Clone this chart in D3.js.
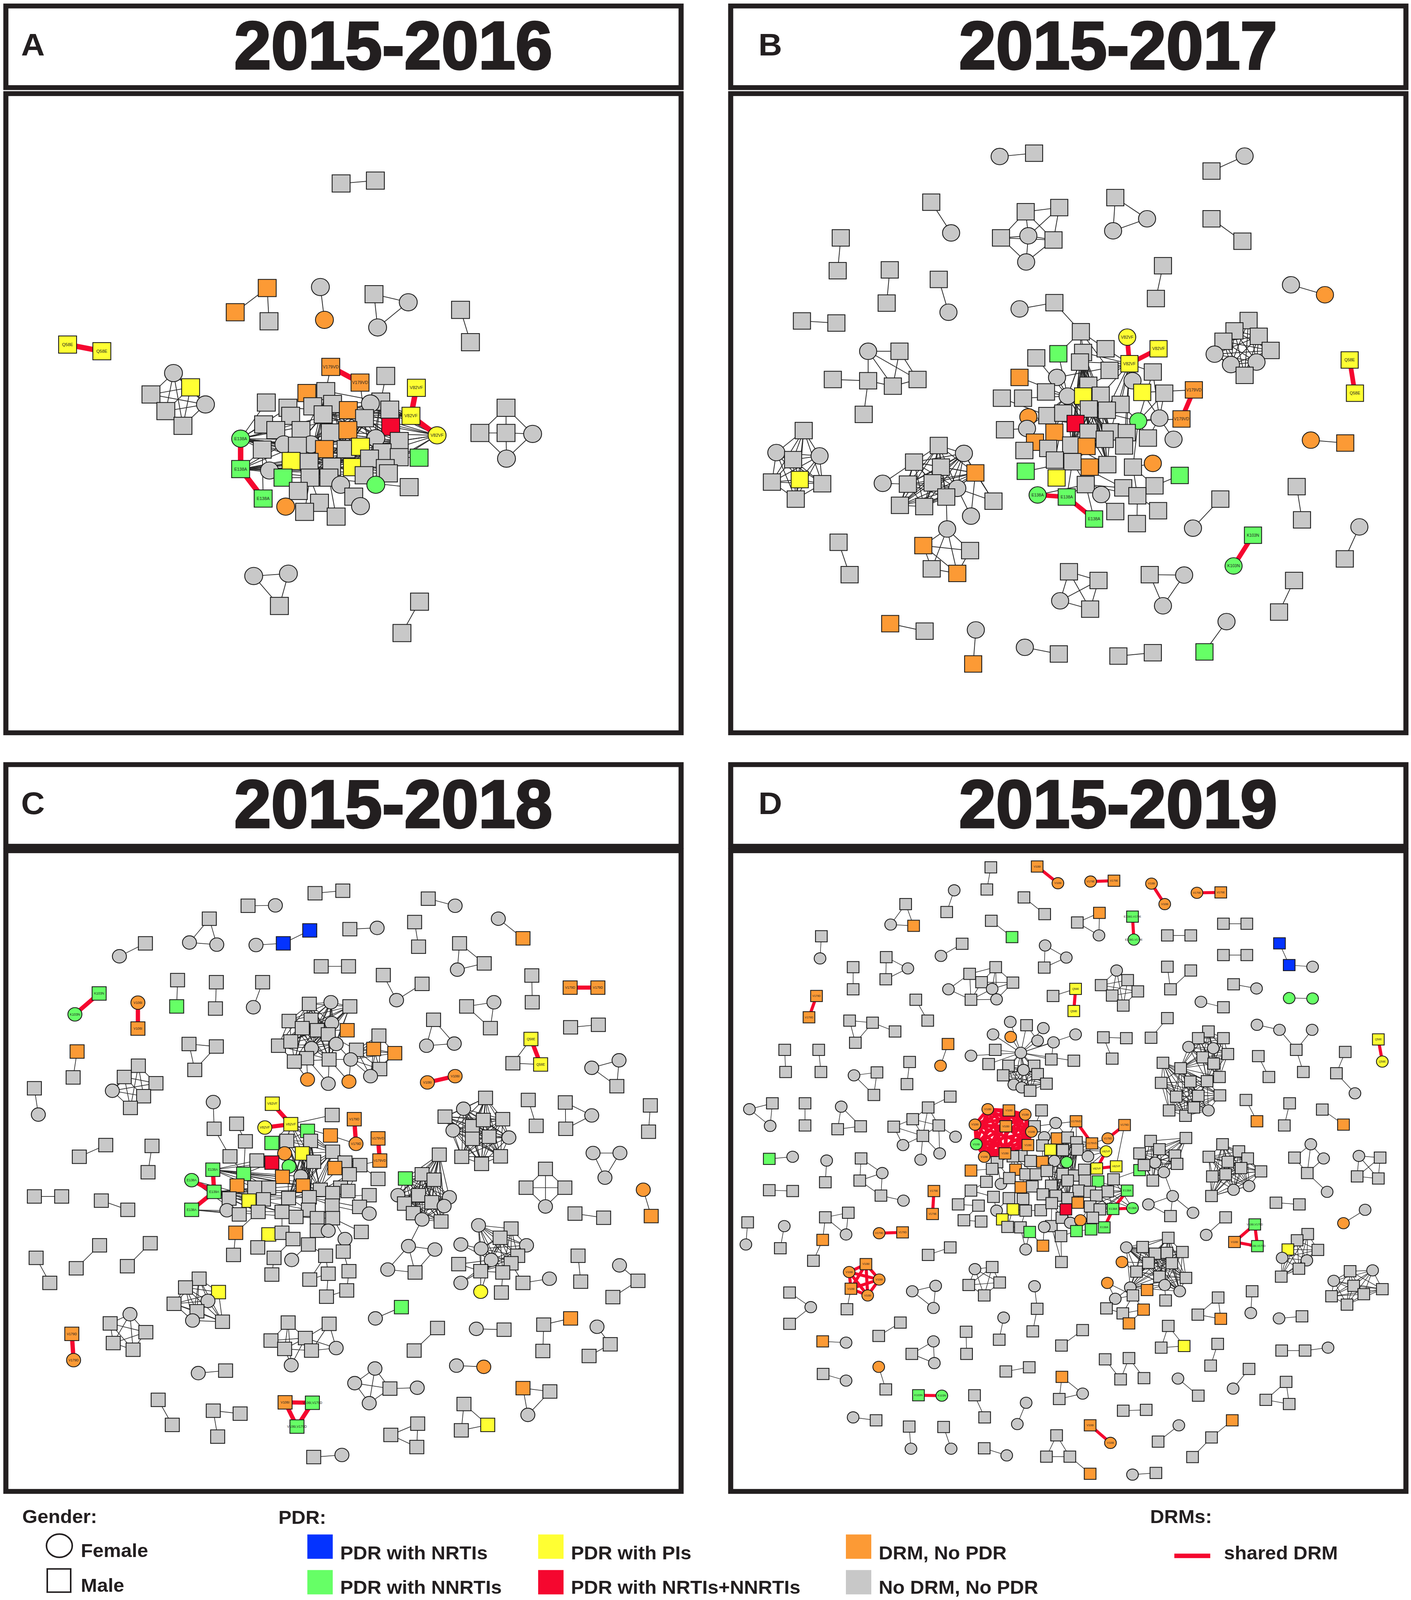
<!DOCTYPE html>
<html>
<head>
<meta charset="utf-8">
<script src="https://cdn.jsdelivr.net/npm/d3@7"></script>
<style>
  html, body { margin: 0; padding: 0; background: #fff; overflow: hidden; }
  svg { display: block; font-family: "Liberation Sans", Arial, sans-serif; }
</style>
</head>
<body>
<div class="chart"></div>
<script>
// node = [x, y, shape (s=square c=circle), category, label]; in a 1560x1560 frame per panel
// edges: undefined = simple pair, 'k' = every pair, [i,j] black, [i,j,1] shared DRM,
//        ['k',..] / ['kr',..] cliques, ['f', hub, ..] a hub linked to each listed node
const compsA = [
  [[[757,386,'s','g'],[833,380,'s','g']]],
  [[[593,606,'s','o'],[522,657,'s','o'],[597,676,'s','g']], [[0,1],[0,2]]],
  [[[711,604,'c','g'],[720,673,'c','o']]],
  [[[830,619,'s','g'],[906,636,'c','g'],[838,689,'c','g']], 'k'],
  [[[1022,652,'s','g'],[1044,720,'s','g']]],
  [[[150,725,'s','y','Q58E'],[226,739,'s','y','Q58E']], [[0,1,1]]],
  [[[385,785,'c','g'],[423,815,'s','y'],[335,830,'s','g'],[456,851,'c','g'],[368,865,'s','g'],[406,896,'s','g']], 'k'],
  [[[1123,858,'s','g'],[1065,911,'s','g'],[1123,911,'s','g'],[1182,913,'c','g'],[1124,965,'c','g']], [[0,1],[0,2],[0,3],[1,2],[2,3],[1,4],[2,4],[3,4]]],
  [[[563,1212,'c','g'],[640,1207,'c','g'],[620,1275,'s','g']], 'k'],
  [[[931,1266,'s','g'],[892,1332,'s','g']]],
  [[[734,772,'s','o','V179VD'],[799,805,'s','o','V179VD'],[856,791,'s','g'],[924,816,'s','y','V82VF'],[912,875,'s','y','V82VF'],
    [970,916,'c','y','V82VF'],[534,923,'c','n','E138A'],[534,987,'s','n','E138A'],[584,1049,'s','n','E138A'],[591,847,'s','g'],
    [723,823,'s','g'],[681,827,'s','o'],[639,858,'s','g'],[738,850,'s','g'],[694,855,'s','g'],[845,845,'s','g'],[865,862,'s','g'],
    [822,849,'c','g'],[585,893,'s','g'],[645,875,'s','g'],[717,872,'s','g'],[773,863,'s','o'],[809,880,'s','g'],[867,898,'s','r'],
    [612,905,'s','g'],[668,905,'s','g'],[733,910,'s','g'],[772,905,'s','o'],[834,922,'c','g'],[886,928,'s','g'],[930,963,'s','n'],
    [582,946,'s','g'],[630,935,'c','g'],[690,935,'c','g'],[660,938,'s','g'],[720,945,'s','o'],[768,945,'s','g'],[800,940,'s','y'],
    [848,952,'s','g'],[886,962,'s','g'],[646,970,'s','y'],[686,972,'s','g'],[736,982,'s','g'],[782,983,'s','y'],[820,965,'s','g'],
    [855,985,'s','g'],[598,990,'c','g'],[628,1005,'s','n'],[688,1005,'s','g'],[730,1005,'s','g'],[808,1000,'s','g'],[862,996,'s','g'],
    [834,1020,'c','n'],[756,1020,'c','g'],[908,1025,'s','g'],[662,1033,'s','g'],[785,1045,'s','g'],[709,1058,'s','g'],[800,1065,'c','g'],
    [634,1066,'c','o'],[676,1077,'s','g'],[746,1087,'s','g']],
   [['k',10,13,15,20,22,26,28,29,34,36,41,42,44,48],
    ['f',6,9,12,18,24,31,32,34,36,38,39,41,44,45,50,51,29,16,15],
    ['f',7,31,32,34,40,41,42,43,44,45,50,51,54,39,38,36],
    ['f',5,16,29,39,22,17,15,38,45,36,26,20,13],
    ['f',4,15,16,22,17,13,20,14,12],
    [0,10],[1,22],[2,15],[8,31],[59,55],[60,48],[61,49],[11,14],[21,13],[23,16],[27,26],[30,39],[35,34],[37,36],[40,41],[43,42],[47,48],[52,50],[53,49],[57,48],[58,56],[46,31],[19,12],[25,34],[33,41],
    [0,1,1],[3,4,1],[4,5,1],[6,7,1],[7,8,1]]]
];

const compsB = [
  [[[628,165,'c','g'],[706,157,'s','g']]],
  [[[1108,200,'s','g'],[1183,164,'c','g']]],
  [[[473,275,'s','g'],[518,349,'c','g']]],
  [[[687,298,'s','g'],[763,288,'s','g'],[631,361,'s','g'],[750,366,'s','g'],[693,356,'c','g'],[688,419,'c','g']], [[0,1],[0,2],[0,4],[0,3],[1,4],[1,3],[2,4],[2,5],[3,4],[3,5],[4,5],[2,3]]],
  [[[890,264,'s','g'],[962,315,'c','g'],[885,344,'c','g']], 'k'],
  [[[1108,315,'s','g'],[1178,369,'s','g']]],
  [[[268,361,'s','g'],[261,440,'s','g']]],
  [[[379,438,'s','g'],[372,518,'s','g']]],
  [[[490,461,'s','g'],[512,540,'c','g']]],
  [[[998,428,'s','g'],[982,507,'s','g']]],
  [[[1288,474,'c','g'],[1365,498,'c','o']]],
  [[[180,561,'s','g'],[258,566,'s','g']]],
  [[[330,634,'c','g'],[401,634,'s','g'],[250,702,'s','g'],[330,705,'s','g'],[386,718,'s','g'],[442,702,'s','g'],[320,786,'s','g']], [[0,1],[0,3],[0,4],[1,4],[1,5],[2,3],[3,4],[3,6],[4,5],[0,5]]],
  [[[1192,560,'s','g'],[1160,585,'s','g'],[1135,610,'s','g'],[1215,598,'s','g'],[1242,632,'s','g'],[1115,641,'c','g'],[1152,666,'c','g'],[1210,660,'c','g'],[1183,692,'s','g']], 'k'],
  [[[1421,655,'s','y','Q58E'],[1433,735,'s','y','Q58E']], [[0,1,1]]],
  [[[1333,848,'c','o'],[1411,855,'s','o']]],
  [[[184,825,'s','g'],[122,878,'c','g'],[220,886,'c','g'],[160,895,'s','g'],[112,949,'s','g'],[226,953,'s','g'],[166,990,'s','g'],[175,943,'s','y']], 'k'],
  [[[490,861,'s','g'],[547,880,'c','g'],[434,901,'s','g'],[495,913,'s','g'],[573,927,'s','o'],[363,952,'c','g'],[420,954,'s','g'],[476,951,'s','g'],
    [532,964,'c','g'],[614,995,'s','g'],[402,1005,'s','g'],[457,1008,'s','g'],[507,985,'s','g'],[563,1031,'c','g'],[509,1062,'c','g'],
    [455,1102,'s','o'],[561,1114,'s','g'],[474,1158,'s','g'],[532,1169,'s','o']],
   [['k',0,1,2,3,4,6,7,8,10,11,12],[5,6],[5,2],[4,9],[8,9],[1,9],[4,13],[8,13],[12,14],[14,15],[14,16],[14,17],[14,18],[15,16],[15,18],[16,18],[17,18],[15,17]]],
  [[[263,1094,'s','g'],[288,1172,'s','g']]],
  [[[673,532,'c','g'],[752,517,'s','g'],[812,587,'s','g'],[917,600,'c','y','V82VF'],[988,628,'s','y','V82VF'],[922,664,'s','y','V82VF'],
    [711,650,'s','g'],[761,640,'s','n'],[817,637,'s','g'],[868,628,'s','g'],[810,660,'s','g'],[673,697,'s','o'],[758,697,'c','g'],
    [829,716,'s','g'],[877,680,'s','g'],[929,705,'c','g'],[975,684,'s','g'],[633,747,'s','g'],[681,747,'s','g'],[733,732,'s','g'],
    [782,742,'c','g'],[817,742,'s','y'],[857,740,'s','g'],[902,762,'s','g'],[951,733,'s','y'],[1001,735,'s','g'],
    [1068,727,'s','o','V179VD'],[1040,797,'s','o','V179VD'],[693,792,'c','o'],[736,789,'s','g'],[772,783,'s','g'],[830,773,'s','g'],
    [871,776,'s','g'],[942,802,'c','n'],[990,795,'c','g'],[640,823,'s','g'],[690,820,'c','g'],[800,808,'s','r'],[752,829,'s','o'],
    [829,829,'s','g'],[879,828,'s','g'],[916,830,'s','g'],[964,843,'s','g'],[1022,846,'c','g'],[708,853,'s','o'],[684,873,'s','g'],
    [738,868,'s','g'],[790,860,'s','g'],[825,863,'s','o'],[866,846,'s','g'],[910,862,'s','g'],[975,904,'c','o'],[1036,933,'s','n'],
    [687,923,'s','n'],[753,896,'s','g'],[793,900,'s','g'],[832,913,'s','o'],[872,907,'s','g'],[930,913,'s','g'],[757,939,'s','y'],
    [823,955,'s','g'],[858,979,'c','g'],[908,963,'s','g'],[979,958,'s','g'],[940,982,'s','g'],[714,980,'c','n','E138A'],
    [780,985,'s','n','E138A'],[842,1038,'s','n','E138A'],[890,1020,'s','g'],[939,1049,'s','g'],[987,1018,'s','g']],
   [['k',8,10,13,20,22,31,39,40,47,49,55,57],
    ['f',5,9,14,15,16,22,23,32,41,40,50,12,13,8,10],
    ['f',33,41,42,50,58,40,31,23,16,25,34],
    ['f',20,6,7,12,19,29,30,36,38,46,54,18,11],
    ['f',55,53,54,59,60,46,47,56,62,57,66],
    ['f',2,8,9,10,7,14],
    ['f',34,25,16,42,43,24],
    ['f',60,61,62,64,66,67],
    [0,1],[1,2],[17,29],[28,37],[35,36],[26,24],[27,33],[51,58],[52,63],[63,58],[64,58],[65,60],[68,60],[69,64],[70,64],[44,46],[45,46],[21,31],[48,39],[37,47],
    [3,5,1],[4,5,1],[26,27,1],[65,66,1],[66,67,1]]],
  [[[1128,990,'s','g'],[1066,1060,'c','g']]],
  [[[1301,960,'s','g'],[1313,1040,'s','g']]],
  [[[1202,1077,'s','n','K103N'],[1158,1151,'c','n','K103N']], [[0,1,1]]],
  [[[1443,1057,'c','g'],[1410,1134,'s','g']]],
  [[[785,1165,'s','g'],[852,1186,'s','g'],[765,1235,'c','g'],[833,1255,'s','g']], 'k'],
  [[[968,1172,'s','g'],[1046,1173,'c','g'],[998,1247,'c','g']], 'k'],
  [[[1295,1186,'s','g'],[1261,1262,'s','g']]],
  [[[380,1290,'s','o'],[458,1308,'s','g']]],
  [[[574,1305,'c','g'],[568,1387,'s','o']]],
  [[[685,1347,'c','g'],[762,1363,'s','g']]],
  [[[897,1368,'s','g'],[975,1360,'s','g']]],
  [[[1142,1285,'c','g'],[1092,1358,'s','n']]]
];

const compsC = [
  [[[330,237,'s','g'],[271,268,'c','g']]],
  [[[475,178,'s','g'],[430,235,'c','g'],[492,240,'c','g']], 'k'],
  [[[563,147,'s','g'],[625,146,'c','g']]],
  [[[715,117,'s','g'],[778,111,'s','g']]],
  [[[581,241,'c','g'],[643,237,'s','b'],[703,206,'s','b']], [[0,1],[1,2]]],
  [[[972,130,'s','g'],[1033,147,'c','g']]],
  [[[794,203,'s','g'],[856,200,'c','g']]],
  [[[941,186,'s','g'],[950,245,'s','g']]],
  [[[1131,178,'c','g'],[1187,225,'s','o']]],
  [[[1043,237,'s','g'],[1038,300,'c','g'],[1099,285,'s','g']], [[0,1],[0,2],[1,2]]],
  [[[729,292,'s','g'],[791,292,'s','g']]],
  [[[870,313,'s','g'],[900,373,'c','g'],[958,334,'s','g']], [[0,1],[1,2]]],
  [[[1207,314,'s','g'],[1208,378,'s','g']]],
  [[[1294,343,'s','o','V179D'],[1357,343,'s','o','V179D']], [[0,1,1]]],
  [[[225,357,'s','n','K103N'],[170,407,'c','n','K103N']], [[0,1,1]]],
  [[[313,379,'c','o','V106I'],[313,441,'s','o','V106I']], [[0,1,1]]],
  [[[403,325,'s','g'],[401,388,'s','n']]],
  [[[491,330,'s','g'],[489,393,'s','g']]],
  [[[596,330,'s','g'],[575,390,'c','g']]],
  [[[1059,388,'s','g'],[1121,378,'c','g'],[1113,440,'s','g']], [[0,1],[0,2],[1,2]]],
  [[[1295,438,'s','g'],[1358,432,'s','g']]],
  [[[175,496,'s','o'],[166,558,'s','g']]],
  [[[429,478,'s','g'],[491,484,'s','g'],[442,540,'s','g']], [[0,1],[0,2],[1,2]]],
  [[[702,382,'s','g'],[751,378,'c','g'],[794,388,'s','g'],[656,423,'s','g'],[706,420,'s','g'],[753,428,'c','g'],[788,445,'s','o'],
    [686,440,'s','g'],[720,445,'s','g'],[745,455,'s','g'],[632,482,'s','g'],[660,472,'s','g'],[707,488,'c','g'],[763,478,'c','g'],
    [696,512,'s','g'],[668,520,'s','g'],[747,515,'s','g'],[860,458,'s','g'],[848,490,'s','o'],[896,500,'s','o'],[809,492,'s','g'],
    [796,515,'c','g'],[862,538,'s','g'],[841,555,'c','g'],[698,563,'c','o'],[745,573,'c','g'],[792,568,'c','o']],
   [['k',0,1,2,3,5,7,9,10,12,13,15,16],['f',8,0,1,3,4,6,11,14,16,10],['k',17,18,19,20,21,22,23],[21,13],[20,9],[21,16],[24,14],[25,16],[26,21],[26,16],[24,15],[25,14]]],
  [[[314,530,'s','g'],[282,557,'s','g'],[354,572,'s','g'],[255,590,'c','g'],[326,603,'s','g'],[296,631,'s','g']], 'k'],
  [[[78,584,'s','g'],[87,647,'c','g']]],
  [[[984,420,'s','g'],[968,482,'c','g'],[1031,477,'c','g']], 'k'],
  [[[1205,466,'s','y','Q58E'],[1227,527,'s','y','Q58E'],[1164,524,'s','g']], [[0,1,1],[0,2],[1,2]]],
  [[[970,570,'c','o','V106I'],[1033,555,'c','o','V106I']], [[0,1,1]]],
  [[[1343,535,'c','g'],[1405,517,'c','g'],[1400,579,'s','g']], [[0,1],[1,2],[0,2]]],
  [[[1476,625,'s','g'],[1472,688,'s','g']]],
  [[[1199,612,'s','g'],[1217,674,'s','g']]],
  [[[1283,618,'s','g'],[1343,649,'c','g'],[1284,681,'s','g']], [[0,1],[0,2],[1,2]]],
  [[[1102,607,'s','g'],[1052,633,'c','g'],[1010,652,'s','g'],[1072,675,'s','g'],[1028,685,'c','g'],[1097,660,'s','g'],[1141,658,'s','g'],
    [1110,700,'s','g'],[1155,702,'c','g'],[1072,705,'s','g'],[1048,748,'s','g'],[1093,765,'s','g'],[1136,747,'s','g']], 'k'],
  [[[1346,739,'c','g'],[1407,739,'c','g'],[1373,798,'c','g']], 'k'],
  [[[1238,777,'s','g'],[1194,822,'s','g'],[1282,822,'s','g'],[1238,867,'c','g']], 'k'],
  [[[1460,827,'c','o'],[1478,890,'s','o']]],
  [[[1305,884,'s','g'],[1370,894,'s','g']]],
  [[[484,617,'c','g'],[486,681,'s','g'],[537,669,'s','g'],[618,621,'s','y','V82VF'],[660,670,'s','y','V82VF'],[601,678,'c','y','V82VF'],
    [804,658,'s','o','V179D'],[808,717,'c','o','V179D'],[858,704,'s','o','V179VD'],[862,757,'s','o','V179VD'],[754,648,'s','g'],
    [698,686,'s','n'],[557,711,'s','g'],[617,715,'s','n'],[651,710,'s','g'],[705,710,'s','g'],[750,697,'s','o'],[522,747,'s','g'],
    [583,757,'s','g'],[646,740,'c','o'],[686,740,'s','y'],[712,760,'s','g'],[755,736,'s','g'],[783,762,'s','g'],[617,762,'s','r'],
    [656,771,'c','n'],[760,775,'s','o'],[817,768,'s','g'],[553,789,'s','n'],[641,796,'s','o'],[683,795,'c','g'],[793,790,'s','g'],
    [858,801,'s','g'],[578,822,'s','g'],[610,822,'s','g'],[538,817,'s','o'],[688,817,'s','o'],[727,827,'s','g'],[773,822,'s','g'],
    [520,848,'s','g'],[598,850,'s','g'],[655,847,'s','g'],[702,845,'s','g'],[755,835,'s','g'],[790,830,'s','g'],[838,840,'s','g'],
    [565,853,'s','y'],[515,876,'c','g'],[543,886,'s','g'],[586,880,'s','g'],[640,880,'s','g'],[700,875,'s','g'],[754,865,'s','g'],
    [816,868,'s','g'],[838,884,'c','g'],[672,892,'s','g'],[720,895,'s','g'],[755,895,'s','g'],[535,930,'s','o'],[610,934,'s','y'],
    [640,930,'s','g'],[665,945,'s','g'],[720,925,'s','g'],[745,925,'c','g'],[783,945,'c','g'],[820,928,'s','g'],[585,965,'s','g'],
    [700,958,'s','g'],[779,975,'s','g'],[530,983,'s','g'],[622,990,'s','g'],[662,995,'c','g'],[739,985,'s','g'],[617,1030,'s','g'],
    [703,1042,'s','g'],[745,1028,'s','g'],[792,1022,'s','g'],[741,1083,'s','g'],[787,1068,'s','g'],
    [483,779,'s','n','E138A'],[435,804,'c','n','E138A'],[486,832,'s','n','E139A'],[435,875,'s','n','E138A']],
   [['k',11,14,15,20,21,22,30,36,37,41,42,51],
    ['f',4,10,11,14,15,16,20,21,13,19,22],
    ['f',28,33,34,35,17,18,12,39,40,29,24],
    ['f',42,43,44,45,31,23,38,52,53,56,55],
    ['f',81,33,34,40,41,49,50,36,42,51,55,37,43],
    ['f',79,18,24,28,29,30,33,34,36,37,38],
    ['f',80,39,46,48,49,40],
    ['f',27,23,31,38,44,22,26],
    ['f',57,52,62,63,64,65,56],
    [0,1],[1,17],[2,12],[82,48],[82,50],[7,16],[9,27],[32,27],[53,44],[54,52],[58,49],[59,60],
    [61,60],[66,59],[67,62],[68,64],[69,58],[70,61],[71,67],[72,67],[73,70],[74,72],[75,72],[76,68],[77,75],[78,76],
    [77,78],[74,75],[35,40],[39,40],[46,41],[47,48],[82,56],[25,30],[60,50],
    [3,4,1],[5,4,1],[6,7,1],[8,9,1],[79,81,1],[80,81,1],[81,82,1]]],
  [[[240,720,'s','g'],[180,748,'s','g']]],
  [[[345,722,'s','g'],[336,785,'s','g']]],
  [[[78,843,'s','g'],[140,843,'s','g']]],
  [[[230,853,'s','g'],[290,875,'s','g']]],
  [[[997,743,'s','g'],[920,800,'s','n'],[958,790,'s','g'],[985,803,'s','g'],[950,840,'s','g'],[903,840,'c','g'],[918,860,'s','g'],
    [1020,845,'c','g'],[980,857,'s','g'],[938,883,'s','g'],[958,898,'c','g'],[1001,903,'s','g'],[1008,866,'c','g'],[927,962,'c','g'],
    [987,970,'c','g'],[880,1018,'c','g'],[942,1025,'s','g']],
   [['k',0,1,2,3,4,5,6,7,8,9,10,11,12],[10,13],[13,14],[13,15],[13,16],[15,16],[14,16]]],
  [[[1086,912,'c','g'],[1160,920,'s','g'],[1135,942,'s','g'],[1046,958,'c','g'],[1092,968,'c','g'],[1195,960,'c','g'],[1175,985,'s','g'],
    [1115,995,'c','g'],[1160,1003,'s','g'],[1041,1005,'s','g'],[1091,1022,'s','g'],[1141,1025,'s','g'],[1046,1050,'c','g'],
    [1091,1071,'c','y'],[1138,1073,'s','g'],[1187,1050,'s','g'],[1247,1040,'c','g']],
   [['k',0,1,2,4,5,6,7,8,10,11],[3,4],[3,7],[9,10],[9,7],[12,10],[13,10],[14,11],[15,16],[15,8],[13,7],[12,7]]],
  [[[1312,985,'s','g'],[1318,1047,'s','g']]],
  [[[1406,1008,'c','g'],[1448,1045,'s','g'],[1391,1084,'s','g']], [[0,1],[1,2]]],
  [[[82,990,'s','g'],[113,1050,'s','g']]],
  [[[226,960,'s','g'],[173,1015,'s','g']]],
  [[[341,955,'s','g'],[289,1010,'s','g']]],
  [[[452,1040,'s','g'],[421,1061,'s','g'],[496,1072,'s','y'],[395,1100,'s','g'],[472,1093,'c','g'],[447,1118,'s','g'],[437,1140,'c','g'],[505,1143,'s','g']], 'k'],
  [[[295,1125,'c','g'],[250,1147,'s','g'],[331,1168,'s','g'],[257,1194,'s','g'],[302,1210,'s','g']], 'k'],
  [[[163,1172,'s','o','V179D'],[167,1235,'c','o','V179D']], [[0,1,1]]],
  [[[911,1108,'s','n'],[852,1135,'c','g']]],
  [[[654,1145,'s','g'],[747,1148,'s','g'],[615,1188,'s','g'],[693,1182,'s','g'],[646,1208,'s','g'],[707,1212,'s','g'],[763,1206,'c','g'],[661,1247,'c','g']],
   [[0,2],[0,3],[0,4],[0,7],[1,3],[1,5],[1,6],[2,3],[2,4],[3,4],[3,5],[3,6],[4,7],[5,6],[4,5],[3,7]]],
  [[[993,1158,'s','g'],[940,1212,'s','g']]],
  [[[1081,1160,'c','g'],[1144,1162,'s','g']]],
  [[[1234,1150,'s','g'],[1295,1135,'s','o'],[1232,1213,'s','g']], [[0,1],[0,2]]],
  [[[1355,1155,'c','g'],[1385,1197,'s','g'],[1337,1225,'s','g']], [[0,1],[1,2]]],
  [[[450,1266,'c','g'],[512,1260,'s','g']]],
  [[[851,1255,'c','g'],[805,1290,'c','g'],[885,1303,'s','g'],[947,1301,'c','g'],[838,1338,'c','g']], [[0,1],[0,2],[0,4],[1,2],[1,4],[2,4],[2,3]]],
  [[[1036,1248,'c','g'],[1098,1251,'c','o']]],
  [[[1187,1302,'s','o'],[1248,1310,'s','g'],[1198,1366,'c','g']], [[0,1],[1,2],[0,2]]],
  [[[359,1330,'s','g'],[391,1390,'s','g']]],
  [[[484,1356,'s','g'],[545,1363,'s','g'],[494,1418,'s','g']], [[0,1],[0,2]]],
  [[[647,1336,'s','o','V106I'],[709,1337,'s','n','V106I,V179D'],[674,1394,'s','n','V106I,V179D']], [['kr']]],
  [[[948,1387,'s','g'],[887,1414,'s','g'],[946,1443,'s','g']], 'k'],
  [[[1053,1340,'s','g'],[1107,1390,'s','y'],[1047,1403,'s','g']], 'k'],
  [[[712,1467,'s','g'],[776,1462,'c','g']]]
];

const compsD = [
  [[[608,55,'s','g'],[599,108,'s','g']]],
  [[[713,53,'s','o','V106I'],[760,93,'c','o','V106I']], [[0,1,1]]],
  [[[834,89,'c','o','V179E'],[887,87,'s','o','V179E']], [[0,1,1]]],
  [[[972,94,'c','o','V106I'],[1002,143,'c','o','V106I']], [[0,1,1]]],
  [[[1075,116,'c','o','V179E'],[1129,115,'s','o','V179E']], [[0,1,1]]],
  [[[525,110,'c','g'],[508,162,'s','g']]],
  [[[683,127,'s','g'],[730,167,'s','g']]],
  [[[415,143,'s','g'],[381,192,'c','g'],[433,195,'s','o']], 'k'],
  [[[854,164,'s','o'],[804,187,'s','g'],[853,218,'c','g']], 'k'],
  [[[929,173,'s','n','E138G,V179E'],[932,228,'c','n','E138G,V179E']], [[0,1,1]]],
  [[[609,183,'s','g'],[656,222,'s','n']]],
  [[[1135,190,'s','g'],[1188,190,'s','g']]],
  [[[1008,218,'s','g'],[1061,218,'s','g']]],
  [[[1262,237,'s','b'],[1284,289,'s','b'],[1337,293,'c','g']], [[0,1],[1,2]]],
  [[[224,220,'s','g'],[221,273,'c','g']]],
  [[[543,238,'s','g'],[495,267,'c','g']]],
  [[[731,242,'c','g'],[779,271,'c','g'],[729,295,'s','g']], 'k'],
  [[[1135,265,'s','g'],[1188,265,'s','g']]],
  [[[371,270,'s','g'],[420,297,'c','g'],[370,323,'s','g']], 'k'],
  [[[296,294,'s','g'],[296,347,'s','g']]],
  [[[1008,293,'s','g'],[1061,302,'s','g'],[1015,347,'s','g']], [[0,2],[1,2]]],
  [[[560,310,'s','g'],[619,294,'s','g'],[587,330,'s','g'],[658,331,'s','g'],[512,347,'c','g'],[611,346,'c','g'],[563,372,'s','g'],[621,371,'c','g']],
   [[0,1],[0,2],[0,4],[0,6],[1,2],[1,3],[1,5],[1,7],[2,5],[2,6],[3,5],[3,7],[4,6],[5,6],[5,7],[6,7],[2,3]]],
  [[[893,302,'c','g'],[918,325,'s','g'],[858,337,'s','g'],[941,352,'s','g'],[883,362,'s','g'],[908,386,'s','g']], 'k'],
  [[[1158,335,'s','g'],[1210,345,'c','g']]],
  [[[1284,368,'c','n'],[1337,369,'c','n']]],
  [[[800,346,'s','y','Q58E'],[796,399,'s','y','Q58E'],[749,363,'s','g']], [[0,1,1],[0,2]]],
  [[[213,363,'s','o','V179D'],[196,414,'s','o','V179D']], [[0,1,1]]],
  [[[1084,377,'c','g'],[1135,390,'s','g']]],
  [[[438,372,'s','g'],[465,422,'s','g']]],
  [[[288,422,'s','g'],[340,427,'s','g'],[301,475,'s','g'],[391,448,'s','g']], [[0,1],[0,2],[1,2],[1,3]]],
  [[[676,499,'c','g'],[652,425,'c','g'],[689,433,'s','g'],[727,440,'c','g'],[653,461,'c','o'],[613,455,'c','g'],[714,470,'c','g'],
    [750,474,'c','g'],[800,455,'c','g'],[618,492,'s','g'],[563,506,'c','g'],[745,515,'s','g'],[796,518,'s','g'],[603,526,'s','g'],
    [706,530,'s','g'],[648,530,'s','g'],[682,540,'c','g'],[636,553,'s','g'],[714,550,'s','g'],[660,575,'c','g'],[678,582,'c','g'],
    [697,590,'s','g'],[734,573,'s','g']],
   [['f',0,1,2,3,4,5,6,7,8,9,10,11,12,13],['k',0,14,15,16,17,18,19,20,21,22],[7,11],[6,2]]],
  [[[1008,416,'s','g'],[971,463,'s','g']]],
  [[[863,462,'s','g'],[915,464,'s','g'],[883,513,'s','g']], [[0,1],[0,2]]],
  [[[1101,448,'s','g'],[1078,464,'s','g'],[1135,464,'s','g'],[1056,485,'c','g'],[1112,488,'c','g'],[1145,502,'s','g'],[1088,510,'s','g'],
    [1113,525,'s','g'],[998,523,'s','g'],[1038,536,'s','g'],[1060,568,'s','g'],[1098,567,'s','g'],[1126,557,'s','g'],[994,571,'s','g'],
    [1028,604,'s','g'],[1078,602,'s','g'],[1127,601,'s','g'],[1012,637,'s','g'],[1049,650,'s','g'],[1068,630,'s','g'],[1101,637,'c','g']],
   [['k',0,1,2,3,4,5,6,7,9,11,12],['k',8,9,10,11,13,14,15,16,17,18,19,20]]],
  [[[1211,432,'c','g'],[1262,444,'c','g'],[1336,444,'c','g'],[1300,492,'s','g'],[1316,545,'s','g']], [[0,1],[1,3],[2,3],[3,4]]],
  [[[1486,467,'s','y','Q58E'],[1495,520,'c','y','Q58E']], [[0,1,1]]],
  [[[1411,497,'s','g'],[1391,548,'s','g'],[1433,596,'c','g']], [[0,1],[1,2]]],
  [[[511,478,'s','o'],[494,530,'c','o']]],
  [[[141,492,'s','g'],[143,545,'s','g']]],
  [[[218,492,'s','g'],[223,545,'s','g']]],
  [[[424,521,'s','g'],[418,574,'s','g']]],
  [[[350,546,'s','g'],[298,553,'c','g'],[343,600,'s','g']], 'k'],
  [[[1214,507,'s','g'],[1238,557,'s','g']]],
  [[[113,620,'s','g'],[61,634,'c','g'],[108,674,'c','g']], 'k'],
  [[[187,620,'s','g'],[187,673,'s','g']]],
  [[[269,628,'c','g'],[261,682,'s','g'],[313,675,'s','g']], 'k'],
  [[[1186,612,'s','g'],[1211,663,'s','o']]],
  [[[1285,620,'s','g'],[1273,673,'s','g']]],
  [[[1359,635,'s','g'],[1407,671,'s','o']]],
  [[[516,604,'s','g'],[466,630,'s','g'],[431,658,'s','g'],[388,676,'s','g'],[490,673,'s','g'],[454,698,'s','g'],[409,720,'c','g'],
    [528,700,'c','g'],[492,740,'c','g'],[449,755,'c','g']],
   [[0,1],[1,2],[1,4],[2,3],[2,5],[3,5],[3,6],[4,5],[4,7],[5,6],[5,8],[5,9],[4,8],[2,4],[1,5]]],
  [[[723,637,'s','g'],[755,667,'c','g'],[801,663,'s','o','V179VD'],[911,672,'s','o','V179D'],[873,704,'c','o','V179D'],
    [837,716,'s','o','V179VD'],[869,735,'c','y','V82VF'],[848,776,'s','y','V82VF'],[892,771,'s','y','V82VF'],[917,829,'s','n','E138A'],
    [885,873,'s','n','E138A'],[929,871,'c','n','E138A'],[865,917,'s','n','E138A'],[707,675,'s','g'],[729,701,'c','g'],[758,704,'s','o'],
    [782,702,'s','g'],[802,713,'s','g'],[725,721,'s','g'],[743,731,'s','y'],[771,732,'s','g'],[804,731,'s','g'],[828,747,'c','g'],
    [677,746,'s','g'],[658,747,'s','g'],[622,761,'s','g'],[698,758,'s','g'],[725,760,'s','o'],[752,758,'c','g'],[780,761,'c','n'],
    [563,781,'s','o'],[611,777,'s','g'],[664,779,'s','o'],[687,790,'s','g'],[710,790,'s','g'],[735,782,'s','g'],[771,789,'s','g'],
    [797,793,'s','g'],[820,779,'s','g'],[821,805,'s','g'],[851,807,'s','n'],[886,802,'s','g'],[598,808,'s','g'],[631,813,'c','g'],
    [650,799,'s','g'],[676,821,'s','o'],[702,819,'s','g'],[745,817,'s','g'],[782,805,'s','g'],[807,829,'s','g'],[832,832,'s','g'],
    [873,831,'s','g'],[563,829,'s','g'],[614,844,'s','g'],[649,847,'s','g'],[681,849,'s','g'],[726,838,'s','g'],[755,841,'s','g'],
    [782,847,'s','g'],[847,841,'s','g'],[534,862,'s','g'],[580,865,'s','g'],[621,877,'c','g'],[658,874,'s','y'],[687,877,'s','g'],
    [721,876,'s','g'],[746,859,'s','g'],[805,858,'s','o'],[833,867,'s','g'],[855,874,'s','g'],[547,900,'s','g'],[586,903,'s','g'],
    [634,898,'s','y'],[675,917,'s','g'],[745,914,'s','g'],[769,894,'s','g'],[788,906,'c','g'],[811,900,'c','o'],[839,894,'s','g'],
    [646,916,'s','g'],[729,916,'c','g'],[696,928,'s','n'],[767,938,'s','g'],[802,926,'s','n'],[835,922,'s','n'],[726,961,'s','o'],
    [687,970,'c','g'],[768,1000,'s','g'],[778,874,'s','r'],[945,780,'s','n']],
   [['k',16,17,20,21,28,35,36,37,47,48,57,58],
    ['f',9,41,51,59,40,69,78,68,50],
    ['f',10,69,78,68,59,51,50],
    ['f',11,41,51,59],
    ['f',6,22,38,21,17,5],
    ['f',5,17,21,22,16],
    ['f',2,16,17,13],
    ['f',25,31,42,43,44,24],
    ['f',24,23,26,33,44,32,34],
    ['f',45,46,33,44,54,55],
    ['f',64,55,65,63,73],
    ['f',66,56,57,65,74,75],
    ['f',77,76,78,68],
    ['f',83,76,82,84],
    ['f',88,75,76,66,58],
    ['f',62,53,54,72],
    ['f',79,72,73,63],
    ['f',27,26,35,18,19],
    ['f',15,14,16,19,20],
    [0,13],[1,14],[1,16],[30,31],[60,52],[60,61],[70,71],[70,61],[52,42],[52,53],[86,81],[86,73],[87,82],[87,74],[85,81],[85,80],
    [84,78],[84,69],[89,41],[3,8],[4,5],[39,49],[67,49],[67,68],
    [2,5,1],[3,4,1],[6,7,1],[7,8,1],[9,10,1],[10,11,1],[10,12,1]]],
  [[[601,634,'c','o','V106I'],[649,637,'s','o','V106I'],[686,647,'c','o','V106I'],[572,671,'c','o','V106I'],[642,675,'s','o','V106I'],
    [700,688,'c','o','V106I'],[575,718,'c','n','V106I'],[692,720,'s','o','V106I'],[593,748,'c','o','V106I'],[640,740,'s','o','V106I']], [['kr']]],
  [[[970,710,'s','g'],[1050,703,'s','g'],[945,740,'s','g'],[990,730,'s','g'],[1025,745,'s','g'],[980,762,'c','g'],[1030,765,'s','g'],
    [955,768,'s','g'],[1000,785,'c','g'],[975,805,'s','g'],[965,862,'c','g'],[1020,842,'c','g'],[1015,890,'s','g'],[1066,882,'c','g']],
   [['k',0,1,2,3,4,5,6,7,8,9],[8,11],[11,10],[11,12],[11,13],[10,12]]],
  [[[1133,718,'s','g'],[1102,748,'s','g'],[1170,735,'s','g'],[1145,760,'s','g'],[1190,752,'s','g'],[1110,795,'s','g'],[1140,790,'s','g'],
    [1175,775,'s','g'],[1220,783,'s','g'],[1158,827,'c','g'],[1193,818,'c','g'],[1108,842,'s','g']], 'k'],
  [[[1333,718,'c','g'],[1296,750,'s','g'],[1362,752,'c','g'],[1325,787,'s','g'],[1370,832,'c','g']], [[0,1],[0,2],[1,3],[2,3],[3,4],[0,3]]],
  [[[1442,746,'c','g'],[1490,750,'s','g'],[1438,795,'s','g'],[1486,800,'s','g']], 'k'],
  [[[106,753,'s','n'],[159,748,'c','g']]],
  [[[236,757,'c','g'],[233,809,'s','g']]],
  [[[106,828,'s','g'],[159,830,'s','g']]],
  [[[314,752,'s','g'],[362,787,'c','g'],[311,805,'s','g'],[359,841,'s','g'],[410,853,'c','g']], [[0,1],[0,2],[1,2],[1,3],[2,3],[3,4]]],
  [[[479,830,'s','o','V179E'],[476,885,'s','o','V179E']], [[0,1,1]]],
  [[[1254,858,'s','g'],[1307,862,'s','g']]],
  [[[1456,875,'c','g'],[1407,907,'c','o']]],
  [[[57,905,'s','g'],[53,958,'c','g']]],
  [[[140,914,'c','g'],[131,967,'s','g']]],
  [[[233,893,'s','g'],[285,882,'s','g'],[280,934,'c','g'],[227,947,'s','o'],[206,997,'s','g']], [[0,1],[0,2],[1,2],[0,3],[3,4]]],
  [[[355,931,'c','o','V179D'],[408,929,'s','o','V179D']], [[0,1,1]]],
  [[[1140,893,'s','g'],[1096,935,'c','g']]],
  [[[1206,910,'s','n','V106I,V179D'],[1160,952,'s','o','V106I'],[1212,962,'s','n','V106I,V179D']], [['kr']]],
  [[[1326,933,'s','g'],[1302,948,'s','g'],[1281,970,'s','y'],[1349,971,'s','g'],[1268,990,'c','g'],[1324,996,'c','g'],[1306,1016,'s','g'],[1266,1035,'s','g']], 'k'],
  [[[516,965,'s','g'],[466,983,'s','g']]],
  [[[915,965,'c','g'],[952,964,'s','g'],[1010,942,'s','g'],[980,980,'s','g'],[1007,978,'s','g'],[1042,976,'s','g'],[965,1002,'s','g'],
    [1018,1003,'s','g'],[938,1023,'s','g'],[990,1035,'s','g'],[1050,1038,'s','g'],[924,1061,'c','g'],[1002,1055,'c','g'],[1036,1070,'c','g'],
    [905,1000,'c','o'],[872,1050,'c','o'],[890,1088,'c','g'],[930,1080,'s','g'],[962,1067,'s','o'],[1004,1092,'s','g'],[870,1111,'s','g'],
    [907,1123,'s','g'],[954,1114,'s','o'],[921,1147,'s','o']],
   [['k',0,1,2,3,4,5,6,7,8,9,10,11,12,13],[14,6],[14,8],[15,16],[15,17],[16,17],[16,11],[17,11],[18,9],[18,12],[19,12],[20,16],[21,17],
    [22,17],[23,21],[23,22],[21,22],[20,21]]],
  [[[325,1005,'s','o','V106I'],[287,1024,'c','o','V106I'],[355,1042,'c','o','V106I'],[291,1064,'s','o','V106I'],[329,1080,'c','o','V106I'],[282,1113,'s','g']],
   [['kr',0,1,2,3,4],[3,5]]],
  [[[572,1017,'c','g'],[611,1012,'s','g'],[558,1055,'s','g'],[628,1049,'s','g'],[593,1080,'s','g']], 'k'],
  [[[1422,1022,'s','g'],[1473,1020,'c','g'],[1385,1045,'c','g'],[1430,1057,'s','g'],[1495,1065,'s','g'],[1380,1082,'s','g'],[1453,1077,'s','g'],[1415,1102,'s','g']], 'k'],
  [[[152,1073,'s','g'],[200,1108,'c','g'],[152,1148,'s','g']], [[0,1],[1,2]]],
  [[[483,1057,'c','g'],[430,1070,'c','g'],[478,1110,'c','g']], 'k'],
  [[[707,1058,'c','g'],[713,1112,'s','g'],[703,1166,'s','g']], [[0,1],[1,2]]],
  [[[1123,1085,'s','g'],[1077,1126,'s','g'],[1129,1136,'s','o']], 'k'],
  [[[1200,1070,'s','g'],[1197,1122,'c','g']]],
  [[[1261,1135,'c','g'],[1313,1130,'s','g']]],
  [[[637,1133,'c','g'],[627,1186,'s','g']]],
  [[[816,1163,'s','g'],[768,1200,'s','g']]],
  [[[403,1145,'s','g'],[354,1177,'s','g']]],
  [[[552,1167,'s','g'],[553,1220,'s','g']]],
  [[[478,1190,'c','g'],[429,1220,'s','g'],[480,1242,'c','g']], 'k'],
  [[[227,1190,'s','o'],[280,1193,'c','g']]],
  [[[1010,1153,'s','g'],[994,1205,'s','g'],[1046,1201,'s','y']], 'k'],
  [[[1122,1196,'s','g'],[1106,1248,'s','g']]],
  [[[1267,1212,'s','g'],[1320,1212,'s','g'],[1372,1205,'c','g']], [[0,1],[1,2]]],
  [[[867,1233,'s','g'],[921,1230,'s','g'],[902,1281,'s','g'],[955,1278,'s','g']], [[0,2],[1,2],[1,3]]],
  [[[642,1262,'s','g'],[695,1252,'s','g']]],
  [[[354,1251,'c','o'],[370,1305,'s','g']]],
  [[[228,1268,'s','g'],[280,1284,'c','g']]],
  [[[769,1275,'s','o'],[763,1328,'s','g'],[816,1315,'c','g']], 'k'],
  [[[1032,1279,'c','g'],[1078,1320,'s','g']]],
  [[[1193,1256,'s','g'],[1157,1303,'c','g']]],
  [[[1277,1287,'s','g'],[1231,1330,'s','g'],[1284,1340,'s','g']], 'k'],
  [[[908,1356,'s','g'],[960,1354,'s','g']]],
  [[[444,1319,'s','n','K103N'],[497,1320,'c','n','K103N']], [[0,1,1]]],
  [[[571,1319,'s','g'],[594,1372,'s','g']]],
  [[[688,1337,'c','g'],[668,1388,'c','g']]],
  [[[296,1372,'c','g'],[348,1379,'s','g']]],
  [[[423,1394,'s','g'],[427,1447,'c','g']]],
  [[[501,1395,'s','g'],[518,1447,'c','g']]],
  [[[833,1391,'s','o','V106I'],[879,1433,'c','o','V106I']], [[0,1,1]]],
  [[[1034,1391,'c','g'],[987,1430,'s','g']]],
  [[[1155,1379,'s','o'],[1108,1420,'s','g'],[1065,1467,'s','g']], [[0,1],[1,2]]],
  [[[593,1446,'s','g'],[644,1463,'c','g']]],
  [[[757,1415,'s','g'],[734,1466,'s','g'],[787,1466,'s','g'],[833,1507,'s','o']], [[0,1],[0,2],[1,2],[2,3]]],
  [[[929,1509,'c','g'],[982,1505,'s','g']]]
];

const panelKeys = ['A', 'B', 'C', 'D'];
const panelTitles = ['2015-2016', '2015-2017', '2015-2018', '2015-2019'];
const categories = ['b', 'n', 'y', 'r', 'o', 'g'];
const categoryNames = ['PDR with NRTIs', 'PDR with NNRTIs', 'PDR with PIs', 'PDR with NRTIs+NNRTIs', 'DRM, No PDR', 'No DRM, No PDR'];
const genderNames = ['Female', 'Male'];

const color = d3.scaleOrdinal()
  .domain(categories)
  .range(['#0433ff', '#66ff66', '#ffff33', '#f5072f', '#fc9a35', '#c8c8c8']);

const W = 3613, H = 4273, ink = '#231f20';

// draw in a 3613x4273 frame, stretched to whatever the viewport really is
const vw = window.innerWidth || W, vh = window.innerHeight || H;
const svg = d3.select('.chart').append('svg')
  .attr('width', vw).attr('height', vh)
  .attr('viewBox', `0 0 ${W} ${H}`)
  .attr('preserveAspectRatio', 'none');
svg.append('rect').attr('width', W).attr('height', H).attr('fill', '#fff');

// layout of the four panels (full-size pixels)
const layout = [
  {comps: compsA, left: 15, top: 16, netTop: 250, netH: 1707, frame: [0, 0, 1800, 1980], size: 46, red: 14, font: 11, lw: 2},
  {comps: compsB, left: 1871, top: 16, netTop: 250, netH: 1707, frame: [1850, 235, 1763, 1730], size: 44, red: 12, font: 10.5, lw: 2},
  {comps: compsC, left: 15, top: 2042, netTop: 2272, netH: 1711, frame: [0, 2255, 1760, 1740], size: 36, red: 11, font: 8.5, lw: 1.7},
  {comps: compsD, left: 1871, top: 2042, netTop: 2272, netH: 1711, frame: [1850, 2255, 1763, 1740], size: 30, red: 8, font: 7, lw: 1.5}
];
const boxW = 1729;

function expandEdges(nodes, spec) {
  const out = [];
  const clique = (ids, red) => {
    for (let i = 0; i < ids.length; i++)
      for (let j = i + 1; j < ids.length; j++) out.push([ids[i], ids[j], red]);
  };
  const all = nodes.map((d, i) => i);
  if (spec === undefined) return [[0, 1, 0]];
  if (spec === 'k') { clique(all, 0); return out; }
  spec.forEach(e => {
    if (e[0] === 'k' || e[0] === 'kr') clique(e.length > 1 ? e.slice(1) : all, e[0] === 'kr' ? 1 : 0);
    else if (e[0] === 'f') e.slice(2).forEach(t => out.push([e[1], t, 0]));
    else out.push([e[0], e[1], e[2] ? 1 : 0]);
  });
  return out;
}

layout.forEach((p, pi) => {
  const g = svg.append('g');

  // title box
  g.append('rect').attr('x', p.left).attr('y', p.top).attr('width', boxW).attr('height', 218)
    .attr('fill', 'none').attr('stroke', ink).attr('stroke-width', 13);
  g.append('text').attr('x', p.left + (pi % 2 ? 71 : 39)).attr('y', p.top + 132)
    .attr('font-size', 84).attr('font-weight', 'bold').attr('fill', ink).text(panelKeys[pi]);
  g.append('text').attr('x', p.left + 992).attr('y', p.top + 168)
    .attr('text-anchor', 'middle').attr('font-size', 180).attr('font-weight', 'bold')
    .attr('fill', ink).attr('stroke', ink).attr('stroke-width', 5)
    .attr('textLength', 815).attr('lengthAdjust', 'spacingAndGlyphs')
    .text(panelTitles[pi]);

  // network box
  g.append('rect').attr('x', p.left).attr('y', p.netTop).attr('width', boxW).attr('height', p.netH)
    .attr('fill', '#fff').attr('stroke', ink).attr('stroke-width', 13);

  const x = d3.scaleLinear().domain([0, 1560]).range([p.frame[0], p.frame[0] + p.frame[2]]);
  const y = d3.scaleLinear().domain([0, 1560]).range([p.frame[1], p.frame[1] + p.frame[3]]);

  const links = [], nodes = [];
  p.comps.forEach(c => {
    const ns = c[0];
    expandEdges(ns, c[1]).forEach(e => links.push({a: ns[e[0]], b: ns[e[1]], red: e[2]}));
    ns.forEach(n => nodes.push(n));
  });

  g.append('g').selectAll('line').data(links.filter(l => !l.red)).join('line')
    .attr('x1', d => x(d.a[0])).attr('y1', d => y(d.a[1]))
    .attr('x2', d => x(d.b[0])).attr('y2', d => y(d.b[1]))
    .attr('stroke', '#2a2a2a').attr('stroke-width', p.lw);

  g.append('g').selectAll('line').data(links.filter(l => l.red)).join('line')
    .attr('x1', d => x(d.a[0])).attr('y1', d => y(d.a[1]))
    .attr('x2', d => x(d.b[0])).attr('y2', d => y(d.b[1]))
    .attr('stroke', color('r')).attr('stroke-width', p.red);

  const s = p.size;
  const ng = g.append('g').selectAll('g').data(nodes).join('g')
    .attr('transform', d => `translate(${x(d[0])},${y(d[1])})`);
  ng.filter(d => d[2] === 's').append('rect')
    .attr('x', -s / 2).attr('y', -s / 2).attr('width', s).attr('height', s)
    .attr('fill', d => color(d[3])).attr('stroke', '#1a1a1a').attr('stroke-width', 2.2);
  ng.filter(d => d[2] === 'c').append('circle')
    .attr('r', s / 2)
    .attr('fill', d => color(d[3])).attr('stroke', '#1a1a1a').attr('stroke-width', 2.2);
  ng.filter(d => d[4]).append('text')
    .attr('text-anchor', 'middle').attr('dy', '0.35em')
    .attr('font-size', p.font).attr('fill', '#222')
    .text(d => d[4]);
});

// legend
const leg = svg.append('g').attr('font-weight', 'bold').attr('font-size', 50).attr('fill', ink);
leg.append('text').attr('x', 57).attr('y', 4068).text('Gender:');
leg.append('ellipse').attr('cx', 152).attr('cy', 4128).attr('rx', 33).attr('ry', 31)
  .attr('fill', '#fff').attr('stroke', ink).attr('stroke-width', 4);
leg.append('text').attr('x', 207).attr('y', 4158).text(genderNames[0]);
leg.append('rect').attr('x', 121).attr('y', 4190).attr('width', 60).attr('height', 62)
  .attr('fill', '#fff').attr('stroke', ink).attr('stroke-width', 4);
leg.append('text').attr('x', 207).attr('y', 4251).text(genderNames[1]);

leg.append('text').attr('x', 713).attr('y', 4070).text('PDR:');
const colX = [787, 1378, 2166];
leg.selectAll('rect.sw').data(categories).join('rect').attr('class', 'sw')
  .attr('x', (d, i) => colX[Math.floor(i / 2)]).attr('y', (d, i) => i % 2 ? 4193 : 4098)
  .attr('width', 65).attr('height', 65).attr('fill', d => color(d));
leg.selectAll('text.cn').data(categoryNames).join('text').attr('class', 'cn')
  .attr('x', (d, i) => colX[Math.floor(i / 2)] + 84).attr('y', (d, i) => i % 2 ? 4256 : 4165)
  .text(d => d);

leg.append('text').attr('x', 2945).attr('y', 4068).text('DRMs:');
leg.append('line').attr('x1', 3007).attr('x2', 3099).attr('y1', 4155).attr('y2', 4155)
  .attr('stroke', color('r')).attr('stroke-width', 12);
leg.append('text').attr('x', 3134).attr('y', 4165).text('shared DRM');
</script>
</body>
</html>
